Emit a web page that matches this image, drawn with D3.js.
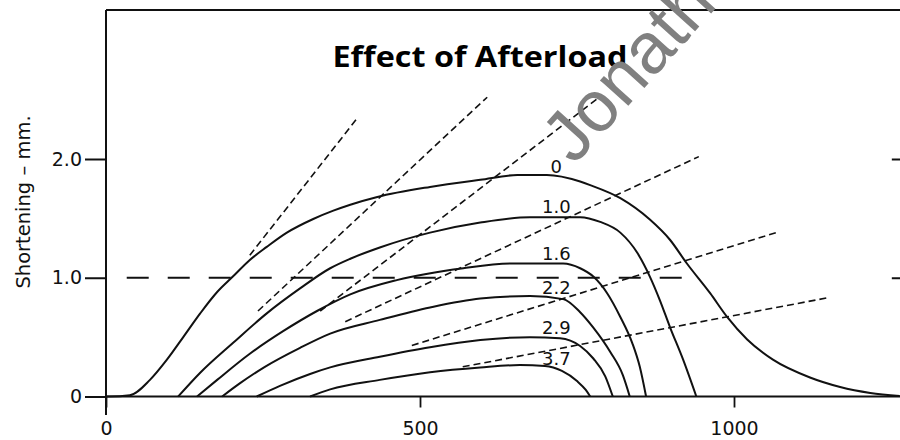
<!DOCTYPE html>
<html>
<head>
<meta charset="utf-8">
<script src="https://cdn.jsdelivr.net/npm/d3@7"></script>
<style>
  body { margin: 0; background: #fff; }
  svg { display: block; }
</style>
</head>
<body>
<svg id="chart" width="900" height="440"></svg>
<script>
// Shortening (mm) against time (ms) for isotonic contractions at increasing afterload.
const afterloadLabels = ["0", "1.0", "1.6", "2.2", "2.9", "3.7"];

const load0 = [[0,0],[6,0],[38,0.01],[70,0.14],[97,0.31],[123,0.50],[150,0.70],[177,0.88],[202,1.01],[229,1.15],[256,1.26],[288,1.38],[330,1.495],[362,1.565],[389,1.615],[432,1.68],[516,1.765],[596,1.825],[655,1.865],[702,1.865],[755,1.81],[771,1.78],[819,1.67],[866,1.49],[898,1.32],[925,1.12],[962,0.87],[989,0.67],[1021,0.48],[1062,0.31],[1121,0.16],[1169,0.08],[1217,0.03],[1264,0.004]];
const load10 = [[115,0],[150,0.20],[202,0.45],[256,0.70],[309,0.91],[357,1.08],[389,1.16],[436,1.255],[516,1.38],[596,1.465],[675,1.51],[755,1.51],[787,1.47],[819,1.38],[846,1.21],[866,1.01],[882,0.81],[898,0.585],[919,0.31],[940,0]];
const load16 = [[145,0],[177,0.14],[229,0.36],[282,0.55],[336,0.72],[389,0.86],[463,0.98],[569,1.08],[648,1.12],[728,1.12],[755,1.08],[776,1.01],[798,0.87],[819,0.67],[838,0.45],[850,0.25],[860,0]];
const load22 = [[185,0],[213,0.11],[253,0.25],[309,0.41],[357,0.53],[436,0.645],[516,0.75],[596,0.825],[675,0.846],[728,0.82],[755,0.71],[776,0.58],[803,0.375],[823,0.18],[834,0]];
const load29 = [[240,0],[277,0.09],[325,0.19],[357,0.245],[436,0.335],[516,0.415],[596,0.475],[675,0.50],[723,0.49],[755,0.425],[776,0.32],[795,0.17],[807,0]];
const load37 = [[325,0],[357,0.06],[436,0.14],[516,0.205],[596,0.245],[659,0.265],[699,0.257],[726,0.215],[750,0.13],[764,0.055],[771,0]];
const shorteningSeries = [load0, load10, load16, load22, load29, load37];

// Tangent lines drawn as short dashes: [t1, s1, t2, s2]
const tangentLines = [
  [229, 1.19, 401, 2.35],
  [242, 0.72, 607, 2.52],
  [341, 0.72, 783, 2.51],
  [381, 0.63, 944, 2.02],
  [487, 0.43, 1067, 1.38],
  [568, 0.25, 1148, 0.83]
];

// Long-dashed reference level at 1.0 mm
const referenceLevel = 1.0;
const referenceSpan = [33, 946];

const xTickValues = [0, 500, 1000];
const xTickLabels = ["0", "500", "1000"];
const yTickValues = [0, 1, 2];
const yTickLabels = ["0", "1.0", "2.0"];

// Frame extents in data units
const xEnd = 1272;
const yTop = 3.255;
const yBottom = -0.155;
const labelTime = 717;

const svg = d3.select("#chart");
const x = d3.scaleLinear().domain([0, 1000]).range([106, 734]);
const y = d3.scaleLinear().domain([0, 2]).range([396.5, 159]);

const ink = "#111";

// Frame: top border, left axis line, baseline
svg.append("line")
  .attr("x1", x(0)).attr("x2", x(xEnd)).attr("y1", y(yTop)).attr("y2", y(yTop))
  .attr("stroke", ink).attr("stroke-width", 2);
svg.append("line")
  .attr("x1", x(0)).attr("x2", x(0)).attr("y1", y(yTop)).attr("y2", y(yBottom))
  .attr("stroke", ink).attr("stroke-width", 2);
svg.append("line")
  .attr("x1", x(0)).attr("x2", x(xEnd)).attr("y1", y(0)).attr("y2", y(0))
  .attr("stroke", ink).attr("stroke-width", 2);

const tickFont = "'DejaVu Sans', sans-serif";

// Left axis
const yAxis = svg.append("g")
  .attr("transform", `translate(${x(0)},0)`)
  .call(d3.axisLeft(y).tickValues(yTickValues).tickSize(21).tickPadding(3)
    .tickFormat((d, i) => yTickLabels[i]));
yAxis.select(".domain").remove();
yAxis.selectAll(".tick line").attr("stroke", ink).attr("stroke-width", 2);
yAxis.selectAll(".tick text").attr("fill", ink)
  .style("font-family", tickFont).style("font-size", "19px");

// Right axis ticks (inward)
const yAxisRight = svg.append("g")
  .attr("transform", `translate(${x(xEnd)},0)`)
  .call(d3.axisLeft(y).tickValues([1, 2]).tickSize(13).tickFormat(""));
yAxisRight.select(".domain").remove();
yAxisRight.selectAll(".tick line").attr("stroke", ink).attr("stroke-width", 2);

// Bottom axis
const xAxis = svg.append("g")
  .attr("transform", `translate(0,${y(0)})`)
  .call(d3.axisBottom(x).tickValues(xTickValues).tickSize(11).tickPadding(14)
    .tickFormat((d, i) => xTickLabels[i]));
xAxis.select(".domain").remove();
xAxis.selectAll(".tick line").attr("stroke", ink).attr("stroke-width", 1.8);
xAxis.selectAll(".tick text").attr("fill", ink)
  .style("font-family", tickFont).style("font-size", "19px");

// Y axis title
svg.append("text")
  .attr("transform", "translate(23,202) rotate(-90)")
  .attr("text-anchor", "middle")
  .attr("dominant-baseline", "central")
  .attr("fill", ink)
  .style("font-family", tickFont).style("font-size", "19.5px")
  .text("Shortening – mm.");

// Reference level
svg.append("line")
  .attr("x1", x(referenceSpan[0])).attr("x2", x(referenceSpan[1]))
  .attr("y1", y(referenceLevel)).attr("y2", y(referenceLevel))
  .attr("stroke", ink).attr("stroke-width", 2.2)
  .attr("stroke-dasharray", "22,19");

// Tangent lines
svg.append("g").selectAll("line").data(tangentLines).join("line")
  .attr("x1", d => x(d[0])).attr("y1", d => y(d[1]))
  .attr("x2", d => x(d[2])).attr("y2", d => y(d[3]))
  .attr("stroke", ink).attr("stroke-width", 1.6)
  .attr("stroke-dasharray", "7,4");

// Shortening curves
const line = d3.line()
  .x(d => x(d[0])).y(d => y(d[1]))
  .curve(d3.curveMonotoneX);
svg.append("g").selectAll("path").data(shorteningSeries).join("path")
  .attr("d", line)
  .attr("fill", "none").attr("stroke", ink).attr("stroke-width", 2);

// Afterload labels sit just above each curve
function valueAt(series, t) {
  for (let i = 1; i < series.length; i++) {
    if (series[i][0] >= t) {
      const [t0, s0] = series[i - 1], [t1, s1] = series[i];
      return s0 + (s1 - s0) * (t - t0) / (t1 - t0);
    }
  }
  return series[series.length - 1][1];
}
svg.append("g").selectAll("text").data(shorteningSeries).join("text")
  .attr("x", x(labelTime))
  .attr("y", d => y(valueAt(d, labelTime)) - 4)
  .attr("text-anchor", "middle")
  .attr("fill", ink)
  .style("font-family", tickFont).style("font-size", "18px")
  .text((d, i) => afterloadLabels[i]);

// Title
svg.append("text")
  .attr("x", 480).attr("y", 67)
  .attr("text-anchor", "middle")
  .attr("fill", "#000")
  .attr("textLength", 295)
  .attr("lengthAdjust", "spacingAndGlyphs")
  .style("font-family", "'Open Sans', Lato, sans-serif")
  .style("font-weight", "bold").style("font-size", "29px")
  .text("Effect of Afterload");

// Watermark
svg.append("text")
  .attr("transform", "translate(574,166) rotate(-48)")
  .attr("fill", "#808080")
  .style("font-family", "'Liberation Sans', Arial, sans-serif")
  .style("font-size", "72px")
  .text("Jonathan");
</script>
</body>
</html>
